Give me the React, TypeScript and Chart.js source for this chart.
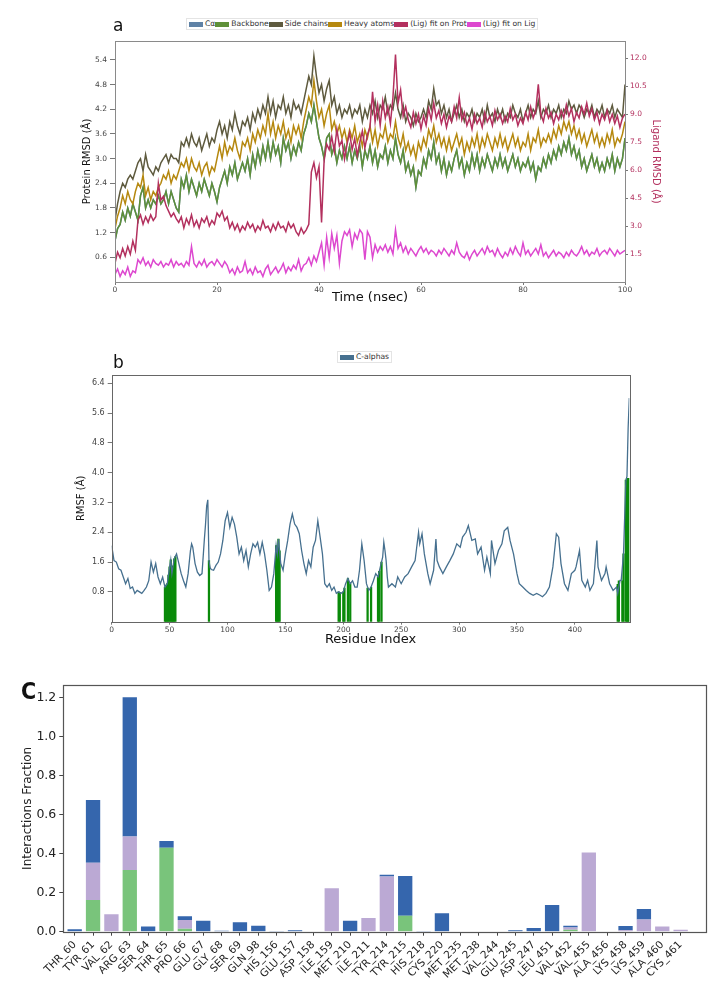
import React, { useEffect, useRef } from 'react';
import { Chart, registerables } from 'chart.js';
Chart.register(...registerables);

const FONT = "'DejaVu Sans', sans-serif";

// ---------------- Panel a : RMSD (0.5 ns sampling) ----------------
const rmsdTimeStepNs = 0.5;
const timeTicks = [0, 20, 40, 60, 80, 100];
const proteinRmsdTicks = [0.6, 1.2, 1.8, 2.4, 3.0, 3.6, 4.2, 4.8, 5.4];
const ligandRmsdTicks = [1.5, 3.0, 4.5, 6.0, 7.5, 9.0, 10.5, 12.0];

const backboneRmsd = [1.0,1.3,1.4,1.7,1.5,1.8,1.6,1.9,1.7,1.5,2.1,
 2.3,1.8,2.0,1.8,2.0,1.9,2.1,1.9,2.0,2.2,
 1.9,2.2,2.0,1.8,1.7,2.5,2.3,2.6,2.2,2.5,
 2.3,2.1,2.4,2.2,2.5,2.3,2.1,2.4,2.2,1.95,
 2.3,2.5,2.7,2.4,2.8,2.6,2.9,2.5,2.7,2.9,
 2.7,3.0,2.6,3.1,2.8,3.2,2.9,3.3,3.0,3.4,
 3.0,3.4,3.1,3.3,2.9,3.5,3.2,3.4,3.0,3.3,
 3.1,3.4,3.2,3.6,3.8,4.1,3.9,4.3,3.9,3.5,
 3.3,3.0,3.5,3.6,3.1,3.3,2.9,3.2,3.0,3.3,
 3.0,3.3,2.9,3.2,3.0,3.3,2.8,3.2,3.0,3.3,
 2.9,3.2,2.8,3.1,3.0,3.3,2.9,3.2,3.0,3.5,
 3.1,2.9,3.2,2.7,2.9,2.6,2.8,2.3,2.7,2.6,
 3.0,2.8,3.2,3.0,3.4,2.9,3.1,2.7,3.0,2.6,
 2.9,2.7,3.0,3.2,2.8,3.0,2.6,2.9,2.7,3.1,
 2.8,3.1,2.7,3.0,2.8,3.1,2.9,2.7,3.0,2.8,
 3.1,2.8,3.0,2.7,2.9,3.1,2.8,3.0,2.7,2.9,
 2.8,3.0,2.7,2.9,2.5,2.8,2.7,3.0,2.8,3.1,
 2.9,3.2,3.0,3.3,3.1,3.4,3.2,3.5,3.1,3.3,
 3.0,3.2,2.8,3.0,2.7,2.9,3.1,2.8,3.0,2.7,
 2.9,2.7,3.0,2.8,3.1,2.7,3.0,2.8,3.0,3.5];

const sideChainRmsd = [1.5,1.9,2.2,2.4,2.3,2.5,2.6,2.5,2.7,2.9,3.0,
 2.7,3.1,2.8,2.7,2.6,2.8,2.7,2.9,3.0,3.1,
 2.9,3.1,3.0,3.0,2.9,3.4,3.3,3.5,3.3,3.6,
 3.4,3.3,3.5,3.2,3.4,3.6,3.3,3.5,3.4,3.7,
 3.9,3.6,3.8,3.5,3.9,3.7,4.1,3.8,3.6,3.9,
 3.8,4.0,3.7,4.1,3.9,4.2,4.0,4.3,4.1,4.5,
 4.1,4.4,4.0,4.3,4.2,4.5,4.1,4.3,4.0,4.4,
 4.2,4.3,4.1,4.4,4.7,5.0,4.8,5.5,5.0,4.6,
 4.8,4.4,4.7,4.9,4.3,4.5,4.1,4.3,4.0,4.2,
 4.1,4.3,4.0,4.2,4.1,4.3,3.9,4.2,4.0,4.3,
 4.1,4.4,4.0,4.3,4.2,4.5,4.1,4.3,4.2,4.6,
 4.2,4.0,4.3,3.9,4.1,4.0,3.8,4.1,3.9,4.0,
 4.2,4.0,4.4,4.2,4.7,4.3,4.4,4.1,4.3,4.0,
 4.2,3.9,4.1,4.3,4.0,4.2,3.9,4.1,4.0,4.2,
 3.9,4.1,4.0,4.2,3.9,4.3,4.0,4.1,3.9,4.2,
 4.0,4.2,3.9,4.1,4.0,4.3,4.1,4.0,4.2,3.9,
 4.1,4.3,4.0,4.2,4.1,4.4,4.0,4.2,4.1,4.3,
 4.0,4.2,4.1,4.3,4.0,4.2,4.1,4.4,4.2,4.3,
 4.1,4.3,4.2,4.0,4.2,4.1,4.3,4.0,4.2,4.1,
 4.3,4.0,4.2,4.1,4.3,4.0,4.2,4.1,4.0,4.8];

const heavyAtomRmsd = [1.3,1.6,1.8,2.1,1.9,2.2,2.0,1.9,2.2,2.4,2.3,
 2.6,2.1,2.3,2.0,2.2,2.1,2.3,2.4,2.6,2.5,
 2.7,2.4,2.6,2.5,2.7,2.9,2.8,3.0,2.7,3.0,
 2.8,2.7,2.9,2.6,2.8,2.9,2.6,2.8,2.7,3.0,
 3.3,3.0,3.4,3.1,3.3,3.2,3.5,3.2,3.0,3.4,
 3.3,3.5,3.2,3.6,3.4,3.7,3.5,3.8,3.6,4.1,
 3.6,3.9,3.5,3.8,3.6,3.9,3.5,3.7,3.4,3.8,
 3.6,3.8,3.5,3.9,4.2,4.5,4.3,4.9,4.4,4.0,
 4.2,3.8,4.1,4.3,3.7,3.9,3.6,3.8,3.5,3.7,
 3.4,3.7,3.5,3.8,3.4,3.6,3.3,3.7,3.5,3.8,
 3.4,3.7,3.3,3.6,3.5,3.8,3.4,3.6,3.5,3.9,
 3.5,3.3,3.6,3.2,3.4,3.1,3.3,3.0,3.4,3.2,
 3.5,3.3,3.7,3.5,3.8,3.4,3.6,3.3,3.5,3.2,
 3.5,3.2,3.4,3.6,3.3,3.5,3.1,3.4,3.2,3.5,
 3.3,3.6,3.2,3.5,3.3,3.6,3.4,3.2,3.5,3.3,
 3.6,3.3,3.5,3.2,3.4,3.6,3.3,3.5,3.2,3.4,
 3.3,3.6,3.2,3.5,3.4,3.7,3.3,3.5,3.4,3.6,
 3.4,3.7,3.5,3.8,3.6,3.9,3.7,3.9,3.6,3.8,
 3.5,3.7,3.4,3.6,3.3,3.5,3.7,3.4,3.6,3.3,
 3.5,3.3,3.6,3.4,3.7,3.3,3.5,3.4,3.6,3.9];

// ligand RMSD series, on the right-hand (Ligand RMSD) axis
const ligFitProtRmsd = [1.0,1.6,1.3,1.8,1.4,1.9,1.5,2.2,1.7,
 3.3,3.6,3.1,3.5,3.2,3.6,3.3,3.5,
 5.3,4.4,4.6,4.1,
 3.8,3.5,3.7,3.4,
 3.2,3.5,2.9,3.4,3.1,3.6,3.0,3.3,2.9,3.4,3.2,3.5,3.0,3.3,3.1,3.7,
 3.5,3.8,3.3,3.5,
 2.9,3.2,2.8,3.1,2.7,3.0,2.8,3.2,2.9,3.1,2.7,3.0,2.8,3.3,2.9,3.0,2.7,3.1,2.8,3.2,2.9,3.0,2.7,3.2,2.9,3.1,
 2.7,2.5,2.9,2.6,2.8,3.1,
 5.9,6.4,5.6,6.2,3.2,
 6.5,7.4,7.1,
 7.8,7.0,8.2,7.3,7.6,6.6,7.4,8.0,7.1,7.7,6.8,7.5,8.1,7.2,7.9,8.3,
 10.2,8.6,9.5,8.4,9.7,8.8,9.4,8.5,9.9,12.2,9.6,10.3,8.9,9.4,
 8.7,8.3,9.1,8.5,9.0,8.2,8.9,8.4,9.3,8.7,
 9.6,8.8,9.2,8.5,9.0,8.3,8.9,8.6,9.4,8.8,
 9.9,8.7,9.1,8.4,8.8,8.2,9.0,8.5,8.8,8.3,
 9.1,8.6,8.9,8.4,9.2,8.7,9.0,8.5,8.9,8.6,
 9.3,8.7,9.0,8.4,8.8,8.5,9.1,8.7,9.4,8.8,
 9.2,10.6,9.0,8.6,9.3,8.8,9.1,8.5,9.0,8.7,
 9.2,8.8,9.5,8.9,9.3,8.6,9.1,8.8,9.4,9.0,
 9.6,8.9,9.3,8.7,9.1,8.5,9.0,8.7,9.2,8.6,
 9.0,8.5,8.9,8.3,8.8,9.0];

const ligFitLigRmsd = [0.4,0.7,0.3,0.6,0.4,0.8,0.3,0.6,0.5,
 1.2,1.0,1.3,0.9,1.1,0.8,1.2,1.0,0.9,1.1,
 0.8,1.0,0.9,1.2,0.8,1.1,0.9,1.0,0.8,1.1,
 0.9,1.9,1.0,0.8,1.1,0.9,1.2,0.8,1.0,1.1,
 0.9,1.2,1.0,0.8,1.1,0.9,
 0.5,0.7,0.4,0.8,0.5,0.6,1.1,0.5,0.7,0.4,
 0.8,0.5,0.6,0.3,0.7,0.9,0.4,0.6,0.8,0.5,
 0.7,1.0,0.5,0.8,0.6,0.9,0.7,1.2,0.6,0.9,
 1.0,1.3,0.9,1.4,1.1,1.6,
 2.1,0.9,2.4,1.3,2.6,1.8,2.5,1.0,2.2,2.7,
 2.5,2.8,1.9,2.6,2.3,2.8,2.6,1.2,2.7,2.4,
 1.3,2.0,1.6,1.9,
 1.7,2.0,1.6,1.9,1.5,2.8,1.8,2.1,1.6,1.9,
 1.5,1.8,1.6,1.4,1.7,1.9,1.6,1.8,1.5,1.7,
 1.6,1.4,1.7,1.5,1.8,1.6,1.4,1.7,1.5,2.1,
 1.6,1.4,1.3,1.6,1.2,1.5,1.7,1.4,1.6,1.8,
 1.5,1.9,1.6,1.7,1.4,1.8,1.5,1.3,1.6,1.4,
 1.8,1.5,1.9,1.6,1.4,2.1,1.5,1.7,1.4,1.6,
 1.8,1.5,2.0,1.4,1.6,1.3,1.5,1.7,1.4,1.6,
 1.5,1.3,1.6,1.4,1.7,1.5,1.4,1.6,1.9,1.5,
 1.7,1.4,1.6,1.5,1.8,1.4,1.6,1.7,1.5,1.8,
 1.6,1.4,1.7,1.5,1.6,1.7];

const rmsdNames = ['Cα', 'Backbone', 'Side chains', 'Heavy atoms', '(Lig) fit on Prot', '(Lig) fit on Lig'];
const rmsdColors = ['#5f82a6', '#5f9038', '#5e5a3e', '#b5880f', '#b3305e', '#dd48cf'];

// ---------------- Panel b : RMSF ----------------
const residueTicks = [0, 50, 100, 150, 200, 250, 300, 350, 400];
const rmsfTicks = [0.8, 1.6, 2.4, 3.2, 4.0, 4.8, 5.6, 6.4];
const rmsfResidue = [0,2,4,6,8,10,12,14,16,18,20,22,24,26,28,30,32,34,36,38,40,42,44,46,48,50,51,52,54,56,58,60,62,64,66,68,69,70,72,74,76,78,80,81,82,83,84,85,86,88,90,92,94,96,98,100,102,104,106,108,110,112,114,116,118,120,122,124,126,128,130,132,134,136,138,140,142,143,144,146,148,150,152,154,156,158,160,162,164,166,168,170,172,174,176,178,180,182,184,186,188,190,192,194,196,198,200,202,204,206,208,210,212,214,216,218,220,222,224,226,228,230,232,234,235,236,237,238,239,242,245,247,250,253,256,259,262,265,266,268,270,273,275,278,280,281,283,286,289,292,295,298,301,303,306,308,311,314,316,319,322,324,327,328,331,334,337,339,342,344,347,350,352,355,358,361,364,367,370,372,375,378,381,384,386,388,391,394,397,400,401,404,406,409,411,413,416,419,420,423,426,427,430,433,436,437,439,440,442,444,445,446,447];
const rmsfValue = [2.04,1.64,1.6,1.42,1.38,1.2,1.02,1.16,0.89,0.93,0.76,0.84,0.8,0.76,0.84,0.93,1.1,1.6,1.33,1.56,1.2,1.02,1.2,0.93,1.02,1.47,1.66,1.29,1.69,1.82,1.56,1.29,1.1,0.93,1.29,1.91,2.09,2.0,1.56,1.33,1.24,1.29,2.2,2.6,3.1,3.27,1.64,1.45,1.4,1.38,1.51,1.6,1.82,2.18,2.71,2.93,2.53,2.8,2.62,2.27,1.82,2.0,1.64,1.91,1.47,1.82,2.09,2.0,2.13,1.82,2.13,1.82,1.38,0.84,0.93,1.29,2.04,1.82,2.22,1.56,1.38,1.82,2.18,2.62,2.89,2.62,2.53,2.36,1.91,1.56,1.29,1.64,1.47,2.0,2.18,2.71,2.27,1.82,1.02,0.93,1.02,0.84,0.93,0.76,0.8,0.76,0.8,1.02,1.16,1.02,1.1,0.93,0.93,1.38,2.09,1.64,1.02,0.84,0.93,1.1,1.29,1.2,1.47,1.73,2.13,1.91,1.64,1.2,0.93,1.02,0.93,1.2,1.02,1.2,1.29,1.47,1.64,2.4,2.09,2.36,1.82,1.29,1.02,1.38,2.22,1.64,1.47,1.29,1.47,1.64,1.82,2.09,2.0,2.27,2.4,2.58,2.18,2.22,1.82,2.0,1.38,1.73,1.29,2.18,1.56,1.91,2.09,2.44,2.53,2.18,1.82,1.29,1.02,0.93,0.84,0.76,0.71,0.76,0.71,0.67,0.76,0.93,1.47,2.36,2.27,1.56,1.02,0.84,1.29,1.38,1.47,1.91,1.11,0.93,1.11,0.84,1.02,2.18,1.47,1.11,1.29,1.47,1.02,0.84,0.93,0.76,1.11,1.11,1.82,3.78,3.9,5.2,6.0];
const contactResidue = [46,47,48,49,50,51,52,53,54,55,84,142,143,144,145,196,197,200,201,204,206,221,224,230,231,233,437,438,441,442,444,445,446,447];
const contactValue = [0.93,0.98,1.02,1.25,1.47,1.66,1.29,1.5,1.69,1.75,1.64,2.04,1.82,2.22,1.9,0.8,0.78,0.8,0.9,1.16,1.02,0.9,0.93,1.2,1.35,1.6,1.0,1.1,1.1,1.82,3.8,3.85,3.85,3.85];

// ---------------- Panel c : Interactions ----------------
const interactionResidues = ['THR_60','TYR_61','VAL_62','ARG_63','SER_64','THR_65','PRO_66','GLU_67','GLY_68','SER_69','GLN_98','HIS_156','GLU_157','ASP_158','ILE_159','MET_210','ILE_211','TYR_214','TYR_215','HIS_218','CYS_220','MET_235','MET_238','VAL_244','GLU_245','ASP_247','LEU_451','VAL_452','VAL_455','ALA_456','LYS_458','LYS_459','ALA_460','CYS_461'];
const hBondFraction = [0,0.162,0,0.316,0,0.43,0.015,0,0,0,0,0,0,0,0,0,0,0,0.082,0,0,0,0,0,0,0,0,0.01,0,0,0,0,0,0];
const hydrophobicFraction = [0,0.191,0.089,0.171,0,0,0.045,0,0,0,0,0,0,0,0.222,0,0.07,0.282,0,0,0,0,0,0,0,0,0,0.012,0.406,0,0.008,0.063,0.027,0.01];
const waterBridgeFraction = [0.012,0.321,0,0.713,0.026,0.034,0.019,0.056,0.005,0.048,0.031,0.004,0.008,0,0,0.056,0,0.01,0.203,0.004,0.094,0,0,0,0.007,0.019,0.137,0.009,0,0,0.021,0.053,0,0];
const fractionTicks = [0, 0.2, 0.4, 0.6, 0.8, 1.0, 1.2];

const framePlugin = {
  id: 'frame',
  afterDatasetsDraw(chart: any, _args: any, opts: any) {
    const { ctx, chartArea } = chart;
    const { left, top, right, bottom } = chartArea;
    ctx.save();
    ctx.strokeStyle = opts.color || '#666';
    ctx.lineWidth = opts.width || 1;
    ctx.strokeRect(Math.round(left) + 0.5, Math.round(top) + 0.5, Math.round(right - left), Math.round(bottom - top));
    ctx.restore();
  },
};

const tickSet = (vals: number[]) => (s: any) => { s.ticks = vals.map((v) => ({ value: v })); };

function makeA(canvas: HTMLCanvasElement) {
  const times = backboneRmsd.map((_, i) => i * rmsdTimeStepNs);
  const toXY = (arr: number[]) => arr.map((v, i) => ({ x: times[i], y: v }));
  const series = [backboneRmsd, backboneRmsd, sideChainRmsd, heavyAtomRmsd, ligFitProtRmsd, ligFitLigRmsd];
  const datasets = series.map((arr, k) => ({
    label: rmsdNames[k],
    data: toXY(arr),
    borderColor: rmsdColors[k],
    borderWidth: 1.5,
    pointRadius: 0,
    fill: false,
    tension: 0,
    yAxisID: k >= 4 ? 'y2' : 'y',
    order: 6 - k,
  }));
  return new Chart(canvas, {
    type: 'line',
    data: { datasets },
    plugins: [framePlugin],
    options: {
      animation: false, responsive: false, events: [],
      layout: { padding: { top: 41, left: 81, right: 61, bottom: 14.8 } },
      plugins: { legend: { display: false }, tooltip: { enabled: false }, frame: { color: '#8a8a8a', width: 1 } } as any,
      scales: {
        x: {
          type: 'linear', min: 0, max: 100, offset: false,
          afterFit: (s: any) => { s.height = 23.2; },
          afterBuildTicks: tickSet(timeTicks),
          ticks: { font: { family: FONT, size: 7.5 }, color: '#444', padding: 1, maxRotation: 0, callback: (v: any) => String(v) },
          grid: { display: true, drawOnChartArea: false, tickLength: 3, color: '#777' },
          border: { display: false },
          title: { display: true, text: 'Time (nsec)', font: { family: FONT, size: 13 }, color: '#111', padding: 0 },
        },
        y: {
          type: 'linear', position: 'left', min: 0, max: 5.86,
          afterFit: (s: any) => { s.width = 34; },
          afterBuildTicks: tickSet(proteinRmsdTicks),
          ticks: { font: { family: FONT, size: 7.5 }, color: '#444', padding: 3, callback: (v: any) => Number(v).toFixed(1) },
          grid: { display: true, drawOnChartArea: false, tickLength: 5, color: '#777' },
          border: { display: false },
          title: { display: true, text: 'Protein RMSD (Å)', font: { family: FONT, size: 10 }, color: '#111', padding: 0 },
        },
        y2: {
          type: 'linear', position: 'right', min: 0, max: 12.93,
          afterFit: (s: any) => { s.width = 37; },
          afterBuildTicks: tickSet(ligandRmsdTicks),
          ticks: { font: { family: FONT, size: 7.5 }, color: '#b3305e', padding: 2, callback: (v: any) => Number(v).toFixed(1) },
          grid: { display: true, drawOnChartArea: false, tickLength: 3, color: '#777' },
          border: { display: false },
          title: { display: true, text: 'Ligand RMSD (Å)', font: { family: FONT, size: 10 }, color: '#b3305e', padding: 0 },
        },
      },
    } as any,
  });
}

function makeB(canvas: HTMLCanvasElement) {
  return new Chart(canvas, {
    type: 'line',
    data: {
      datasets: [
        {
          type: 'line', label: 'C-alphas',
          data: rmsfResidue.map((r, i) => ({ x: r, y: rmsfValue[i] })),
          borderColor: '#46708f', borderWidth: 1.3, pointRadius: 0, fill: false, tension: 0, order: 1,
        },
        {
          type: 'bar', label: 'contacts',
          data: contactResidue.map((r, i) => ({ x: r, y: contactValue[i] })),
          backgroundColor: '#0a8a0a', barThickness: 1.6, borderWidth: 0, order: 2,
        },
      ] as any,
    },
    plugins: [framePlugin],
    options: {
      animation: false, responsive: false, events: [],
      layout: { padding: { top: 55, left: 75.5, right: 93.7, bottom: 12.2 } },
      plugins: { legend: { display: false }, tooltip: { enabled: false }, frame: { color: '#666', width: 1 } } as any,
      scales: {
        x: {
          type: 'linear', min: 0, max: 447, offset: false,
          afterFit: (s: any) => { s.height = 26.1; },
          afterBuildTicks: tickSet(residueTicks),
          ticks: { font: { family: FONT, size: 7.5 }, color: '#444', padding: 1, maxRotation: 0, callback: (v: any) => String(v) },
          grid: { display: true, drawOnChartArea: false, tickLength: 3, color: '#777', offset: false },
          border: { display: false },
          title: { display: true, text: 'Residue Index', font: { family: FONT, size: 13 }, color: '#111', padding: 0 },
        },
        y: {
          type: 'linear', min: 0, max: 6.62,
          afterFit: (s: any) => { s.width = 36.2; },
          afterBuildTicks: tickSet(rmsfTicks),
          ticks: { font: { family: FONT, size: 8 }, color: '#444', padding: 3, callback: (v: any) => Number(v).toFixed(1) },
          grid: { display: true, drawOnChartArea: false, tickLength: 4, color: '#777' },
          border: { display: false },
          title: { display: true, text: 'RMSF (Å)', font: { family: FONT, size: 10 }, color: '#111', padding: 0 },
        },
      },
    } as any,
  });
}

function makeC(canvas: HTMLCanvasElement) {
  const toXY = (arr: number[]) => arr.map((v, i) => ({ x: i, y: v }));
  const common = { barPercentage: 0.78, categoryPercentage: 1.0, borderWidth: 0 };
  return new Chart(canvas, {
    type: 'bar',
    data: {
      datasets: [
        { label: 'H-bonds', data: toXY(hBondFraction), backgroundColor: '#79c47b', ...common },
        { label: 'Hydrophobic', data: toXY(hydrophobicFraction), backgroundColor: '#bba9d4', ...common },
        { label: 'Water bridges', data: toXY(waterBridgeFraction), backgroundColor: '#3566ad', ...common },
      ],
    },
    plugins: [framePlugin],
    options: {
      animation: false, responsive: false, events: [],
      layout: { padding: { top: 25, left: 21, right: 16.3, bottom: 0 } },
      plugins: { legend: { display: false }, tooltip: { enabled: false }, frame: { color: '#555', width: 1.2 } } as any,
      scales: {
        x: {
          type: 'linear', stacked: true, min: -0.62, max: 34.42, offset: false,
          afterFit: (s: any) => { s.height = 59.3; },
          afterBuildTicks: tickSet(interactionResidues.map((_, i) => i)),
          ticks: {
            font: { family: FONT, size: 10.5 }, color: '#222', padding: 3, autoSkip: false,
            minRotation: 45, maxRotation: 45, callback: (v: any) => interactionResidues[v] ?? '',
          },
          grid: { display: true, drawOnChartArea: false, tickLength: 4, color: '#444', offset: false },
          border: { display: false },
        },
        y: {
          type: 'linear', stacked: true, min: 0, max: 1.263,
          afterFit: (s: any) => { s.width = 42.3; },
          afterBuildTicks: tickSet(fractionTicks),
          ticks: { font: { family: FONT, size: 12.5 }, color: '#222', padding: 3, callback: (v: any) => Number(v).toFixed(1) },
          grid: { display: true, drawOnChartArea: false, tickLength: 4, color: '#444' },
          border: { display: false },
          title: { display: true, text: 'Interactions Fraction', font: { family: FONT, size: 12 }, color: '#222', padding: 0 },
        },
      },
    } as any,
  });
}

const legendBox = (color: string) => (
  <span style={{ display: 'inline-block', width: 14, height: 5, background: color, marginRight: 2 }} />
);

export default function App() {
  const aRef = useRef<HTMLCanvasElement>(null);
  const bRef = useRef<HTMLCanvasElement>(null);
  const cRef = useRef<HTMLCanvasElement>(null);
  useEffect(() => {
    const charts = [makeA(aRef.current!), makeB(bRef.current!), makeC(cRef.current!)];
    return () => charts.forEach((c) => c.destroy());
  }, []);
  const legendStyle: React.CSSProperties = {
    position: 'absolute', display: 'flex', alignItems: 'center', whiteSpace: 'nowrap',
    fontFamily: FONT, fontSize: 7.6, color: '#333', lineHeight: '8px',
    border: '1px solid #e4e4e4', padding: '1px 2px', background: '#fff',
  };
  return (
    <div style={{ position: 'absolute', left: 0, top: 0, width: 723, height: 991, background: '#fff', fontFamily: FONT, overflow: 'hidden' }}>
      <canvas ref={aRef} width={723} height={320} style={{ position: 'absolute', left: 0, top: 0, width: 723, height: 320 }} />
      <canvas ref={bRef} width={723} height={340} style={{ position: 'absolute', left: 0, top: 320, width: 723, height: 340 }} />
      <canvas ref={cRef} width={723} height={331} style={{ position: 'absolute', left: 0, top: 660, width: 723, height: 331 }} />
      <div style={{ position: 'absolute', left: 113, top: 16.6, fontSize: 17, lineHeight: '17px', color: '#111' }}>a</div>
      <div style={{ position: 'absolute', left: 113, top: 353.6, fontSize: 17, lineHeight: '17px', color: '#111' }}>b</div>
      <div style={{ position: 'absolute', left: 21, top: 680, fontSize: 23, lineHeight: '23px', fontWeight: 'bold', color: '#111', fontFamily: "'DejaVu Sans Condensed', 'DejaVu Sans', sans-serif" }}>C</div>
      <div style={{ ...legendStyle, left: 186, top: 18 }}>
        {rmsdNames.map((n, i) => (
          <span key={n} style={{ display: 'inline-flex', alignItems: 'center' }}>
            {legendBox(rmsdColors[i])}
            <span>{n}</span>
          </span>
        ))}
      </div>
      <div style={{ ...legendStyle, left: 337, top: 351 }}>
        {legendBox('#46708f')}
        <span>C-alphas</span>
      </div>
    </div>
  );
}
